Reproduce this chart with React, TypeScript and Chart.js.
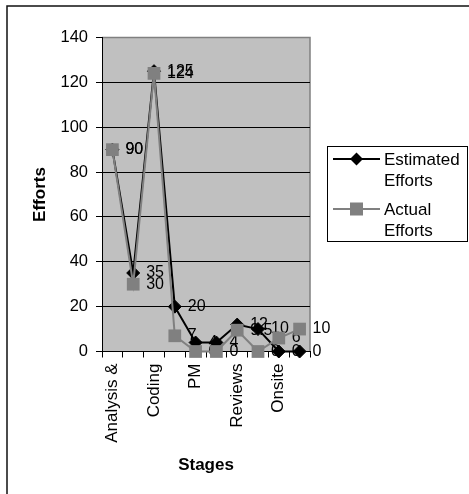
import React, { useEffect, useRef } from "react";
import { Chart, registerables } from "chart.js";

Chart.register(...registerables);

const categories = ["Analysis &", "", "Coding", "", "PM", "", "Reviews", "", "Onsite", ""];
const estimatedEfforts = [90, 35, 125, 20, 4, 4, 12, 10, 0, 0];
const actualEfforts = [90, 30, 124, 7, 0, 0, 9.5, 0, 6, 10];
const seriesNames = [["Estimated", "Efforts"], ["Actual", "Efforts"]];
const yTitle = "Efforts";
const xTitle = "Stages";
const yMin = 0;
const yMax = 140;
const yStep = 20;

const FONT = "'Liberation Sans', Arial, sans-serif";
const EST_COLOR = "#000000";
const ACT_COLOR = "#808080";

export default function App() {
  const ref = useRef<HTMLCanvasElement | null>(null);

  useEffect(() => {
    const canvas = ref.current;
    if (!canvas) return;

    const decorPlugin = {
      id: "decor",
      beforeDraw(chart: any) {
        const { ctx, chartArea: a } = chart;
        ctx.save();
        ctx.fillStyle = "#ffffff";
        ctx.fillRect(0, 0, chart.width, chart.height);
        // outer frame (only left/top visible)
        ctx.strokeStyle = "#111";
        ctx.lineWidth = 1.5;
        ctx.beginPath();
        ctx.moveTo(7, chart.height + 2);
        ctx.lineTo(7, 6);
        ctx.lineTo(chart.width + 2, 6);
        ctx.stroke();
        // plot bg
        ctx.fillStyle = "#C0C0C0";
        ctx.fillRect(a.left, a.top, a.right - a.left, a.bottom - a.top);
        ctx.strokeStyle = "#808080";
        ctx.lineWidth = 1.5;
        ctx.beginPath();
        ctx.moveTo(a.left, a.top);
        ctx.lineTo(a.right, a.top);
        ctx.lineTo(a.right, a.bottom);
        ctx.stroke();
        ctx.restore();
      },
      beforeDatasetsDraw(chart: any) {
        const { ctx } = chart;
        ctx.save();
        ctx.font = `16px ${FONT}`;
        ctx.fillStyle = "#000";
        ctx.textAlign = "left";
        ctx.textBaseline = "middle";
        [0, 1].forEach((di) => {
          const meta = chart.getDatasetMeta(di);
          const vals = chart.data.datasets[di].data as number[];
          meta.data.forEach((pt: any, i: number) => {
            ctx.fillText(String(vals[i]), pt.x + 13, pt.y);
          });
        });
        ctx.restore();
      },
      afterDraw(chart: any) {
        const { ctx, chartArea: a } = chart;
        ctx.save();
        // axis titles
        ctx.fillStyle = "#000";
        ctx.font = `bold 17px ${FONT}`;
        ctx.textAlign = "center";
        ctx.textBaseline = "middle";
        ctx.fillText(xTitle, (a.left + a.right) / 2, 465);
        ctx.save();
        ctx.translate(40, (a.top + a.bottom) / 2);
        ctx.rotate(-Math.PI / 2);
        ctx.fillText(yTitle, 0, 0);
        ctx.restore();

        // legend
        const lx = 327, ly = 146, lw = 141, lh = 96;
        ctx.fillStyle = "#fff";
        ctx.fillRect(lx, ly, lw, lh);
        ctx.strokeStyle = "#000";
        ctx.lineWidth = 1;
        ctx.strokeRect(lx + 0.5, ly + 0.5, lw - 1, lh - 1);
        const rows = [
          { y: 159, color: EST_COLOR, style: "diamond" },
          { y: 209, color: ACT_COLOR, style: "square" },
        ];
        rows.forEach((r, idx) => {
          ctx.strokeStyle = r.color;
          ctx.lineWidth = 2;
          ctx.beginPath();
          ctx.moveTo(333, r.y);
          ctx.lineTo(380, r.y);
          ctx.stroke();
          ctx.fillStyle = r.color;
          const cx = 356.5;
          if (r.style === "diamond") {
            ctx.beginPath();
            ctx.moveTo(cx, r.y - 6.5);
            ctx.lineTo(cx + 6.5, r.y);
            ctx.lineTo(cx, r.y + 6.5);
            ctx.lineTo(cx - 6.5, r.y);
            ctx.closePath();
            ctx.fill();
          } else {
            ctx.fillRect(cx - 6.5, r.y - 6.5, 13, 13);
          }
          ctx.fillStyle = "#000";
          ctx.font = `17px ${FONT}`;
          ctx.textAlign = "left";
          ctx.textBaseline = "middle";
          seriesNames[idx].forEach((t, li) => {
            ctx.fillText(t, 384, r.y + 1 + li * 21.5);
          });
        });
        ctx.restore();
      },
    };

    const chart = new Chart(canvas, {
      type: "line",
      data: {
        labels: categories,
        datasets: [
          {
            label: seriesNames[0].join(" "),
            data: estimatedEfforts,
            borderColor: EST_COLOR,
            backgroundColor: EST_COLOR,
            borderWidth: 2,
            pointStyle: "rectRot",
            pointRadius: 6.5,
            pointBorderWidth: 1,
            pointBackgroundColor: EST_COLOR,
            pointBorderColor: EST_COLOR,
            tension: 0,
            clip: false as any,
            order: 1,
          },
          {
            label: seriesNames[1].join(" "),
            data: actualEfforts,
            borderColor: ACT_COLOR,
            backgroundColor: ACT_COLOR,
            borderWidth: 2,
            pointStyle: "rect",
            pointRadius: 9,
            pointBorderWidth: 0,
            pointBackgroundColor: ACT_COLOR,
            pointBorderColor: ACT_COLOR,
            tension: 0,
            clip: false as any,
            order: 0,
          },
        ],
      },
      options: {
        animation: false,
        responsive: false,
        events: [],
        layout: { padding: { left: 0, top: 37.5, right: 159, bottom: 0 } },
        plugins: {
          legend: { display: false },
          tooltip: { enabled: false },
          title: { display: false },
        },
        scales: {
          x: {
            offset: true,
            grid: {
              offset: true,
              drawOnChartArea: false,
              drawTicks: true,
              tickLength: 6,
              tickColor: "#000",
              color: "#000",
            },
            border: { display: true, color: "#000", width: 1 },
            ticks: {
              autoSkip: false,
              minRotation: 90,
              maxRotation: 90,
              padding: 6,
              color: "#000",
              font: { family: FONT, size: 17 },
            },
            afterFit(scale: any) {
              scale.height = 142.5;
            },
          },
          y: {
            min: yMin,
            max: yMax,
            grid: {
              color: (c: any) => (c.tick && c.tick.value === yMax ? "rgba(0,0,0,0)" : "#000"),
              tickLength: 6,
              tickColor: "#000",
              lineWidth: 1,
            },
            border: { display: true, color: "#000", width: 1 },
            ticks: {
              stepSize: yStep,
              padding: 8,
              color: "#000",
              font: { family: FONT, size: 16.5 },
            },
            afterFit(scale: any) {
              scale.width = 102;
            },
          },
        },
      },
      plugins: [decorPlugin],
    });

    return () => chart.destroy();
  }, []);

  return (
    <div style={{ position: "fixed", left: 0, top: 0, width: 469, height: 494 }}>
      <canvas ref={ref} width={469} height={494} style={{ display: "block" }} />
    </div>
  );
}
